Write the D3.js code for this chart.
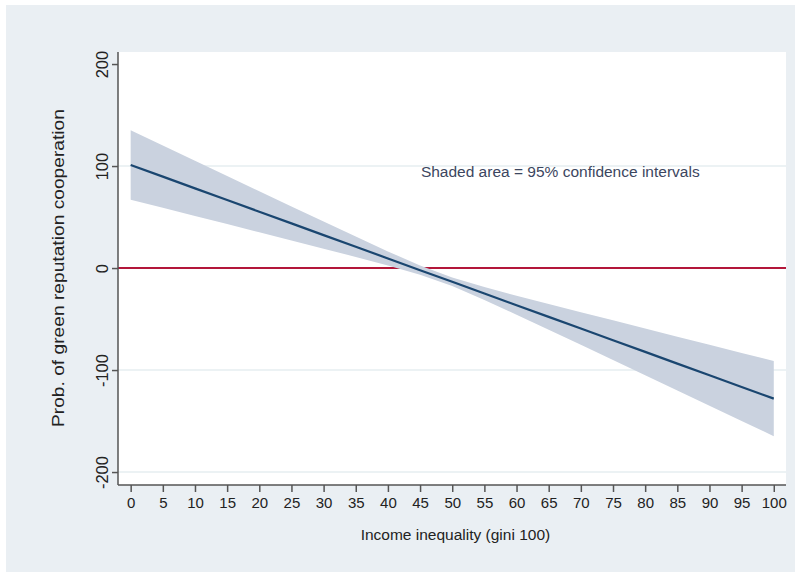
<!DOCTYPE html>
<html>
<head>
<meta charset="utf-8">
<script src="https://cdn.jsdelivr.net/npm/d3@7"></script>
<style>
  body { margin: 0; background: #fff; }
  text { font-family: 'Liberation Sans', Arial, sans-serif; }
</style>
</head>
<body>
<div id="chart"></div>
<script>
// values
const gini = [0, 5, 10, 15, 20, 25, 30, 35, 40, 45, 50, 55, 60, 65, 70, 75, 80, 85, 90, 95, 100];
const fitted = [101, 89.6, 78.1, 66.7, 55.2, 43.8, 32.3, 20.9, 9.4, -2.1, -13.5, -25, -36.4, -47.9, -59.3, -70.8, -82.2, -93.7, -105.1, -116.6, -128];
const upperCI = [135, 120.1, 105.1, 90.2, 75.3, 60.4, 45.6, 30.8, 16.3, 2.5, -9.3, -18.6, -27.1, -35.2, -43.3, -51.3, -59.3, -67.3, -75.3, -83.3, -91.2];
const lowerCI = [67, 59, 51.1, 43.1, 35.1, 27.1, 19, 10.9, 2.5, -6.6, -17.7, -31.3, -45.7, -60.5, -75.3, -90.2, -105.1, -120, -134.9, -149.9, -164.8];
const xTicks = d3.range(0, 101, 5);
const yTicks = [-200, -100, 0, 100, 200];
const gridAt = [-200, -100, 100];

const width = 795, height = 572;
const plot = { left: 118, right: 786, top: 52, bottom: 485 };

const svg = d3.select('#chart')
  .append('svg')
  .attr('width', width)
  .attr('height', height);

// outer background
svg.append('rect')
  .attr('x', 6).attr('y', 5)
  .attr('width', width - 6).attr('height', height - 5)
  .style('fill', '#eaeff3');

svg.append('rect')
  .attr('x', plot.left).attr('y', plot.top)
  .attr('width', plot.right - plot.left).attr('height', plot.bottom - plot.top)
  .style('fill', '#fff');

const x = d3.scaleLinear().domain([-1.97, 101.9]).range([plot.left, plot.right]);
const y = d3.scaleLinear().domain([-212.7, 211.8]).range([plot.bottom, plot.top]);

// gridlines
svg.selectAll('.grid')
  .data(gridAt)
  .enter()
  .append('line')
  .attr('x1', plot.left).attr('x2', plot.right)
  .attr('y1', d => y(d)).attr('y2', d => y(d))
  .style('stroke', '#e6eef0')
  .style('stroke-width', 1.5);

// zero reference line (under the band)
svg.append('line')
  .attr('x1', plot.left).attr('x2', plot.right)
  .attr('y1', y(0)).attr('y2', y(0))
  .style('stroke', '#b3173a')
  .style('stroke-width', 2);

const rows = gini.map((g, i) => ({ g: g, fit: fitted[i], hi: upperCI[i], lo: lowerCI[i] }));

svg.append('path')
  .datum(rows)
  .attr('d', d3.area().x(d => x(d.g)).y0(d => y(d.lo)).y1(d => y(d.hi)))
  .style('fill', '#cad2df');

svg.append('path')
  .datum(rows)
  .attr('d', d3.line().x(d => x(d.g)).y(d => y(d.fit)))
  .style('fill', 'none')
  .style('stroke', '#1a4670')
  .style('stroke-width', 2.2);

// axes
const xAxis = svg.append('g')
  .attr('transform', 'translate(0,' + plot.bottom + ')')
  .call(d3.axisBottom(x).tickValues(xTicks).tickSize(7).tickPadding(5));
xAxis.select('.domain').attr('d', 'M' + plot.left + ',0H' + plot.right);

const yAxis = svg.append('g')
  .attr('transform', 'translate(' + plot.left + ',0)')
  .call(d3.axisLeft(y).tickValues(yTicks).tickFormat(d => String(d)).tickSize(6).tickPadding(6));
yAxis.select('.domain').attr('d', 'M0,' + plot.top + 'V' + plot.bottom);

svg.selectAll('.domain, .tick line').style('stroke', '#555').style('stroke-width', 1.5);
svg.selectAll('.tick text')
  .style('font-size', '15px')
  .style('fill', '#222')
  .style('font-family', "'Liberation Sans', Arial, sans-serif");

yAxis.selectAll('.tick text')
  .attr('transform', 'rotate(-90)')
  .attr('x', 0)
  .attr('y', -15)
  .attr('text-anchor', 'middle')
  .style('font-size', '16.5px');

// titles
svg.append('text')
  .text('Income inequality (gini 100)')
  .attr('x', x(50.5))
  .attr('y', 540)
  .attr('text-anchor', 'middle')
  .style('font-size', '15.5px')
  .style('fill', '#222');

svg.append('text')
  .text('Prob. of green reputation cooperation')
  .attr('transform', 'translate(64,' + y(0) + ') rotate(-90)')
  .attr('text-anchor', 'middle')
  .attr('textLength', 318)
  .attr('lengthAdjust', 'spacingAndGlyphs')
  .style('font-size', '16px')
  .style('fill', '#222');

svg.append('text')
  .text('Shaded area = 95% confidence intervals')
  .attr('x', x(66.8))
  .attr('y', 177)
  .attr('text-anchor', 'middle')
  .style('font-size', '15.5px')
  .style('fill', '#3c4660');
</script>
</body>
</html>
